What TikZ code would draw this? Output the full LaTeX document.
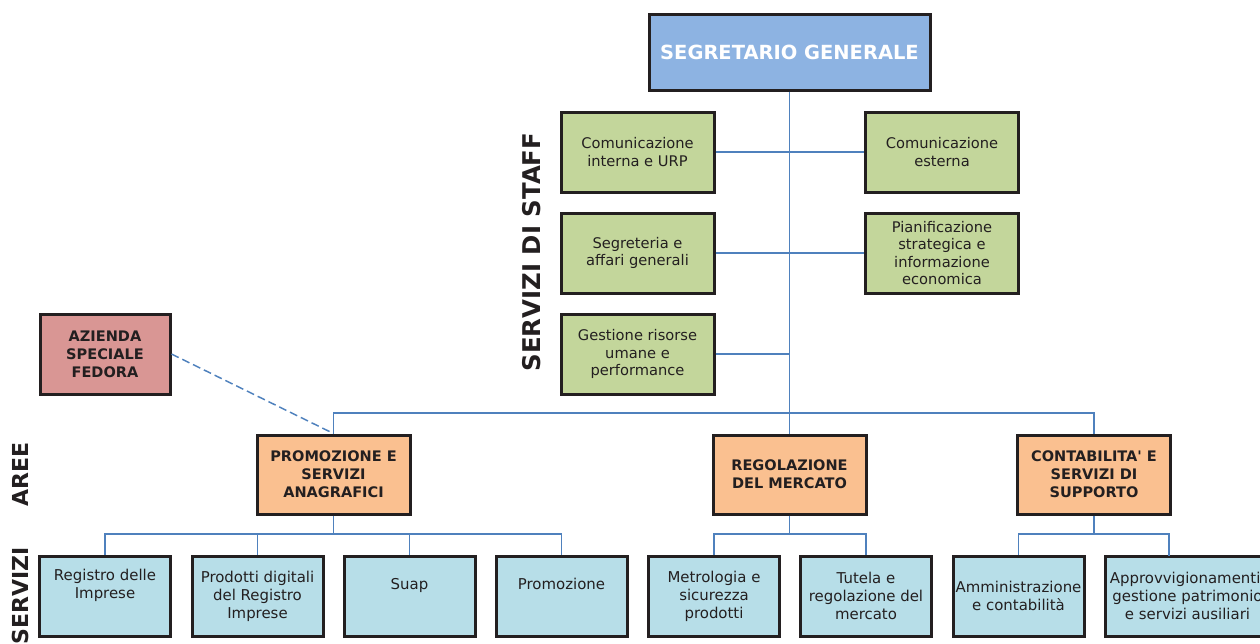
\documentclass[tikz,border=0pt]{standalone}
\usepackage{fontspec}
\setmainfont{DejaVu Sans}
\definecolor{sgblue}{RGB}{141,179,226}
\definecolor{staffgreen}{RGB}{195,214,155}
\definecolor{azpink}{RGB}{217,150,148}
\definecolor{areaorange}{RGB}{250,192,144}
\definecolor{servblue}{RGB}{183,222,232}
\definecolor{linkblue}{RGB}{79,129,189}
\definecolor{darktxt}{RGB}{35,31,32}
\begin{document}
\begin{tikzpicture}[x=0.75pt,y=-0.75pt,
  box/.style={draw=darktxt,line width=2.25pt,inner sep=0pt,align=center,text=darktxt},
  staffbox/.style={box,fill=staffgreen,minimum width=114.75pt,minimum height=60pt,font=\fontsize{11}{13.2}\selectfont},
  areabox/.style={box,fill=areaorange,minimum width=114.75pt,minimum height=59.25pt,font=\fontsize{10.9}{13.5}\selectfont\bfseries},
  servbox/.style={box,fill=servblue,minimum width=98.25pt,minimum height=60pt,font=\fontsize{11.2}{13.5}\selectfont},
  link/.style={draw=linkblue,line width=1.1pt},
  sidelabel/.style={rotate=90,text=darktxt,font=\bfseries,inner sep=0pt}
]
\useasboundingbox (0,0) rectangle (1260,643);

% top
\node[box,fill=sgblue,minimum width=210.75pt,minimum height=57pt,text=white,font=\fontsize{14.6}{16}\selectfont\bfseries] (sg) at (789.5,52) {SEGRETARIO GENERALE};

% staff
\node[staffbox] (ci) at (637.5,152) {Comunicazione\\interna e URP};
\node[staffbox] (ce) at (942,152) {Comunicazione\\esterna};
\node[staffbox] (sa) at (637.5,253) {Segreteria e\\affari generali};
\node[staffbox] (ps) at (942,253) {Pianificazione\\strategica e\\informazione\\economica};
\node[staffbox] (gr) at (637.5,354) {Gestione risorse\\umane e\\performance};

\node[sidelabel,font=\fontsize{18.3}{20}\selectfont\bfseries] (lstaff) at (532,252) {SERVIZI DI STAFF};
\node[sidelabel,font=\fontsize{16.5}{18}\selectfont\bfseries] (laree) at (20,474.5) {AREE};
\node[sidelabel,font=\fontsize{16.5}{18}\selectfont\bfseries] (lserv) at (20,596) {SERVIZI};

% azienda
\node[box,fill=azpink,minimum width=97.5pt,minimum height=60pt,font=\fontsize{10.9}{13.5}\selectfont\bfseries] (az) at (105,354) {AZIENDA\\SPECIALE\\FEDORA};

% areas
\node[areabox] (pr) at (333.5,474.5) {PROMOZIONE E\\SERVIZI\\ANAGRAFICI};
\node[areabox] (rm) at (789.5,474.5) {REGOLAZIONE\\DEL MERCATO};
\node[areabox] (cs) at (1094,474.5) {CONTABILITA\textquotesingle{} E\\SERVIZI DI\\SUPPORTO};

% services
\node[servbox] (s1) at (105,596) {Registro delle\\Imprese\\\strut};
\node[servbox] (s2) at (257.5,596) {Prodotti digitali\\del Registro\\Imprese};
\node[servbox] (s3) at (409.5,596) {Suap\\\strut};
\node[servbox] (s4) at (561.5,596) {Promozione\\\strut};
\node[servbox] (s5) at (714,596) {Metrologia e\\sicurezza\\prodotti};
\node[servbox] (s6) at (866,596) {Tutela e\\regolazione del\\mercato};
\node[servbox] (s7) at (1018.5,596) {Amministrazione\\e contabilità};
\node[servbox,minimum width=123.75pt] (s8) at (1187.5,596) {Approvvigionamenti,\\gestione patrimonio\\e servizi ausiliari};
\coordinate (d8) at (1169,556);

% connectors
\coordinate (bus) at (0,413);
\coordinate (b1) at (0,534);
\draw[link] (sg.south) -- (rm.north);
\draw[link] (ci.east) -- (ce.west);
\draw[link] (sa.east) -- (ps.west);
\draw[link] (gr.east) -- (gr.east -| sg.south);
\draw[link] (pr.north) |- (cs.north |- bus) -- (cs.north);
\draw[link,dashed,dash pattern=on 6pt off 3pt] (az.east) -- (pr.north);

\draw[link] (pr.south) -- (pr.south |- b1);
\draw[link] (s1.north) |- (s4.north |- b1) -- (s4.north);
\draw[link] (s2.north) -- (s2.north |- b1);
\draw[link] (s3.north) -- (s3.north |- b1);

\draw[link] (rm.south) -- (rm.south |- b1);
\draw[link] (s5.north) |- (s6.north |- b1) -- (s6.north);

\draw[link] (cs.south) -- (cs.south |- b1);
\draw[link] (s7.north) |- (d8 |- b1) -- (d8);
\end{tikzpicture}
\end{document}
